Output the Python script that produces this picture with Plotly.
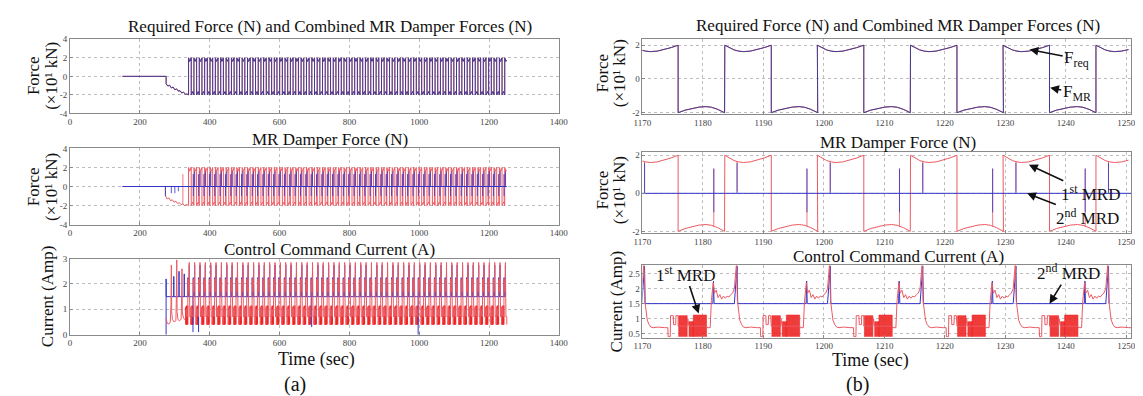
import plotly.graph_objects as go

# ---------------- data ----------------
# falling edges (high -> low) of the required / MR force square wave, sec
force_falls = [347.0, 362.4, 377.7, 393.1, 408.4, 423.8, 439.1, 454.5, 469.8, 485.2,
               500.5, 515.9, 531.2, 546.6, 561.9, 577.3, 592.6, 608.0, 623.3, 638.7,
               654.0, 669.4, 684.7, 700.1, 715.4, 730.8, 746.1, 761.5, 776.8, 792.2,
               807.5, 822.9, 838.2, 853.6, 868.9, 884.3, 899.6, 915.0, 930.3, 945.7,
               961.0, 976.4, 991.7, 1007.1, 1022.4, 1037.8, 1053.1, 1068.5, 1083.8, 1099.2,
               1114.5, 1129.9, 1145.2, 1160.6, 1175.9, 1191.3, 1206.6, 1222.0, 1237.3]
half_cycle = 7.68          # duration of each high / low plateau, sec
end_time = 1251.0

# shape of the high plateau (fraction of half cycle, force x10 kN)
high_frac = [0.0, 0.1, 0.2, 0.3, 0.4, 0.55, 0.7, 0.85, 1.0]
high_mag = [2.0, 1.85, 1.72, 1.65, 1.62, 1.65, 1.74, 1.86, 2.0]
# shape of the low plateau
low_frac = [0.0, 0.15, 0.3, 0.45, 0.6, 0.72, 0.85, 1.0]
low_mag = [-2.0, -1.85, -1.74, -1.67, -1.64, -1.68, -1.8, -2.0]

# start-up transient of the combined force
trans_t = [150, 275, 275.1, 280, 285, 290, 295, 300, 305, 310, 315, 320, 325, 330, 335, 339.3]
trans_f = [0, 0, -0.8, -1.05, -0.95, -1.25, -1.15, -1.45, -1.35, -1.6, -1.55, -1.8, -1.7, -1.95, -1.9, -2.0]

# start-up transient of the 1st MR damper force
mrd1_trans_t = [150, 273, 273.1, 278, 283, 288, 293, 298, 303, 308, 313, 318, 323, 328, 333, 339.3]
mrd1_trans_f = [0, 0, -1.0, -1.3, -1.2, -1.5, -1.4, -1.65, -1.55, -1.8, -1.7, -1.9, -1.85, -2.0, -1.9, -2.0]

# spikes per cycle (offset after falling edge, from, to)
mrd1_spike_dt = [5.9, 9.75]
mrd1_spike_from = [-1.75, 1.7]
mrd1_spike_to = [1.3, 0.1]
mrd2_spike_dt = [5.9, 9.75]
mrd2_spike_from = [-1.0, 0.0]
mrd2_spike_to = [1.3, 1.6]
mrd2_trans_spike_t = [273, 290, 300, 310]
mrd2_trans_spike_to = [-1.0, -0.7, -0.7, -0.5]
mrd1_trans_spike_t = [323]
mrd1_trans_spike_to = [1.3]

# control current: cycle starts and per-cycle template (offset sec, Amp)
cur_starts = [331.7] + force_falls
cur_red_dt = [0.0, 1.5, 1.6, 1.7, 1.8, 4.7, 4.8, 5.3, 5.5, 5.8, 6.0, 6.3, 6.6, 6.9, 7.2, 7.5,
              7.8, 8.1, 8.4, 8.7, 9.0, 9.3, 9.5, 9.65, 9.8, 10.0, 10.2, 10.5, 10.8, 11.2, 12.0,
              13.0, 13.6, 13.65, 14.0, 14.05, 14.5, 14.55, 14.9, 14.95, 15.3]
cur_red_v = [0.75, 0.75, 1.0, 0.75, 0.75, 0.75, 0.7, 0.7, 1.6, 2.2, 1.85, 1.95, 1.7, 1.8, 1.65, 1.75,
             1.68, 1.75, 1.72, 1.8, 1.85, 2.0, 2.4, 2.85, 1.6, 1.2, 0.95, 0.8, 0.72, 0.7, 0.72,
             0.7, 0.7, 0.4, 0.4, 1.1, 1.1, 0.8, 0.8, 1.1, 1.1]
cur_blue_dt = [0.0, 5.75, 5.85, 5.95, 9.3, 9.45, 9.6, 9.75, 9.85, 15.3]
cur_blue_v = [1.5, 1.5, 2.25, 1.5, 1.5, 2.0, 2.6, 2.75, 1.5, 1.5]
# dense switching blocks of the 1st MRD current (offset start, offset end, low, high)
block_start = [0.1, 1.8, 2.5]
block_end = [1.5, 2.5, 4.7]
block_low = [0.4, 0.4, 0.4]
block_high = [1.1, 0.9, 1.12]
# current start-up transient
cur_red_trans_t = [275.1, 278, 283, 287, 289, 290, 291, 293, 298, 303, 304.5, 305.5,
                   306.5, 309, 313, 318, 319.5, 320.5, 321.5, 324, 328, 331.6]
cur_red_trans_v = [0.65, 0.45, 0.42, 0.5, 1.2, 2.75, 0.9, 0.6, 0.5, 0.55, 1.5, 2.95,
                   0.9, 0.6, 0.55, 0.6, 1.5, 2.6, 0.9, 0.7, 0.6, 0.65]
cur_blue_trans_t = [275, 275, 275.3, 275.4, 296.8, 297, 297.2, 311.8, 312, 312.2, 326.8, 327, 327.2, 331.6]
cur_blue_trans_v = [0, 2.2, 2.2, 1.5, 1.5, 2.3, 1.5, 1.5, 2.5, 1.5, 1.5, 2.4, 1.5, 1.5]
blue_dip_t = [352, 368, 692, 997]
blue_dip_v = [0.1, 0.1, 0.3, 0.0]

left_xticks = [0, 200, 400, 600, 800, 1000, 1200, 1400]
right_xticks = [1170, 1180, 1190, 1200, 1210, 1220, 1230, 1240, 1250]

# ---------------- build series ----------------
def square_wave(tt, ff):
    xs, ys = list(tt), list(ff)
    for T in force_falls + [force_falls[-1] + 2 * half_cycle]:
        rise = T - half_cycle
        for f, m in zip(high_frac, high_mag):
            xs.append(rise + f * half_cycle); ys.append(m)
        if T > force_falls[-1]:
            break
        for f, m in zip(low_frac, low_mag):
            xs.append(T + f * half_cycle); ys.append(m)
    out = [(a, b) for a, b in zip(xs, ys) if a <= end_time]
    return [a for a, _ in out], [b for _, b in out]

f_x, f_y = square_wave(trans_t, trans_f)
m1_x, m1_y = square_wave(mrd1_trans_t, mrd1_trans_f)

def spikes(dts, froms, tos, extra_t=(), extra_to=(), base=0.0):
    xs, ys = [], []
    for t, v in zip(extra_t, extra_to):
        xs += [t, t, None]; ys += [base, v, None]
    for T in force_falls:
        for dt, a, b in zip(dts, froms, tos):
            if T + dt <= end_time:
                xs += [T + dt, T + dt, None]; ys += [a, b, None]
    return xs, ys

m1s_x, m1s_y = spikes(mrd1_spike_dt, mrd1_spike_from, mrd1_spike_to,
                      mrd1_trans_spike_t, mrd1_trans_spike_to, base=-1.85)
m2s_x, m2s_y = spikes(mrd2_spike_dt, mrd2_spike_from, mrd2_spike_to,
                      mrd2_trans_spike_t, mrd2_trans_spike_to)
m2_x = [150, end_time]
m2_y = [0, 0]

def template(tt, vv, dts, vals):
    xs, ys = list(tt), list(vv)
    for T in cur_starts:
        for dt, v in zip(dts, vals):
            if T + dt <= end_time:
                xs.append(T + dt); ys.append(v)
    return xs, ys

cr_x, cr_y = template(cur_red_trans_t, cur_red_trans_v, cur_red_dt, cur_red_v)
cb_x, cb_y = template(cur_blue_trans_t, cur_blue_trans_v, cur_blue_dt, cur_blue_v)
bd_x, bd_y = [], []
for t, v in zip(blue_dip_t, blue_dip_v):
    bd_x += [t, t, None]; bd_y += [1.5, v, None]
blk_x, blk_y = [], []
for T in cur_starts:
    for s, e, lo, hi in zip(block_start, block_end, block_low, block_high):
        if T + e <= end_time:
            blk_x += [T + s, T + s, T + e, T + e, None]
            blk_y += [lo, hi, hi, lo, None]

# ---------------- figure ----------------
W, H = 1143, 396
def px(x): return x / W
def py(y): return 1 - y / H

FONT = "Liberation Serif, Times New Roman, Times, serif"
NAVY = "#3e3e96"
BLUE = "#3434c8"
RED = "#ec5a62"
BRED = "#ee2626"

fig = go.Figure()
axes = {  # name: (x domain px, y domain px)
    1: ((54, 551), (27, 103)),
    2: ((54, 551), (139, 217)),
    3: ((54, 551), (252, 330)),
    4: ((636, 1133), (27, 104)),
    5: ((636, 1133), (143, 226)),
    6: ((636, 1133), (259, 333)),
}

def add(i, x, y, color, width=1.0, **kw):
    fig.add_trace(go.Scatter(x=x, y=y, mode="lines", line=dict(color=color, width=width),
                             xaxis="x" if i == 1 else f"x{i}", yaxis="y" if i == 1 else f"y{i}",
                             showlegend=False, hoverinfo="skip", **kw))

for i in (1, 4):
    add(i, f_x, f_y, RED, 1.0)
    add(i, f_x, f_y, NAVY, 1.0)
for i in (2, 5):
    add(i, m1_x, m1_y, RED, 1.0)
    add(i, m1s_x, m1s_y, RED, 1.0, opacity=0.8)
    add(i, m2_x, m2_y, BLUE, 1.0)
    add(i, m2s_x, m2s_y, BLUE, 1.0, opacity=0.8)
for i in (3, 6):
    lw = 1.6 if i == 3 else 0.6
    add(i, blk_x, blk_y, BRED, lw, fill="toself", fillcolor="rgba(238,38,38,0.9)")
    add(i, cb_x, cb_y, BLUE, 1.0)
    add(i, bd_x, bd_y, BLUE, 1.0)
    add(i, cr_x, cr_y, RED, 1.0)

tickfont = dict(family=FONT, size=9, color="#444")
common = dict(showline=True, mirror=True, linecolor="#8a8a8a", linewidth=1,
              showgrid=True, gridcolor="#bdbdbd", griddash="dot", gridwidth=1,
              zeroline=False, ticks="inside", ticklen=3, tickcolor="#8a8a8a",
              tickfont=tickfont)
yranges = {1: [-4, 4], 2: [-4, 4], 3: [0, 3], 4: [-2.1, 2.35], 5: [-2.1, 2.15], 6: [0.37, 2.77]}
yticks = {1: [-4, -2, 0, 2, 4], 2: [-4, -2, 0, 2, 4], 3: [0, 1, 2, 3],
          4: [-2, 0, 2], 5: [-2, 0, 2], 6: [0.5, 1, 1.5, 2, 2.5]}
layout = {}
for i, ((x0, x1), (y0, y1)) in axes.items():
    xn = "xaxis" if i == 1 else f"xaxis{i}"
    yn = "yaxis" if i == 1 else f"yaxis{i}"
    xa = "x" if i == 1 else f"x{i}"
    ya = "y" if i == 1 else f"y{i}"
    xt = left_xticks if i <= 3 else right_xticks
    xr = [0, 1400] if i <= 3 else [1170, 1250.8]
    layout[xn] = dict(domain=[px(x0), px(x1)], anchor=ya, range=xr, tickvals=xt,
                      ticktext=[str(v) for v in xt], **common)
    yt = yticks[i]
    layout[yn] = dict(domain=[py(y1), py(y0)], anchor=xa, range=yranges[i], tickvals=yt,
                      ticktext=["%g" % v for v in yt], **common)

ann = []
def text(x, y, s, size=16.5, angle=0):
    ann.append(dict(x=px(x), y=py(y), xref="paper", yref="paper", text=s, showarrow=False,
                    textangle=angle, font=dict(family=FONT, size=size, color="#111"),
                    xanchor="center", yanchor="middle"))

for cx, ys_ in ((318, (14, 130, 243)), (896, (13, 133, 250))):
    text(cx, ys_[0], "Required Force (N) and Combined MR Damper Forces (N)", 17)
    text(cx, ys_[1], "MR Damper Force (N)", 17)
    text(cx, ys_[2], "Control Command Current (A)", 17)

for fx, fy in ((17, 64), (17, 178), (595, 62), (595, 182)):
    text(fx, fy, "Force", 17, -90)
    text(fx + 18, fy, "(×10¹ kN)", 17, -90)
text(31, 290, "Current (Amp)", 17, -90)
text(610, 296, "Current (Amp)", 17, -90)
text(305, 355, "Time (sec)", 18)
text(868, 357, "Time (sec)", 18)
text(283, 381, "(a)", 20)
text(855, 381, "(b)", 20)

def arrow(i, x, y, ax, ay, s):
    ann.append(dict(x=x, y=y, ax=ax, ay=ay, xref=f"x{i}", yref=f"y{i}", axref=f"x{i}",
                    ayref=f"y{i}", text=s, showarrow=True, arrowhead=2, arrowsize=1.1,
                    arrowwidth=1.6, arrowcolor="#111",
                    font=dict(family=FONT, size=17, color="#111")))

arrow(4, 1234.0, 1.74, 1241.8, 1.2, "F<sub>req</sub>")
arrow(4, 1237.4, -0.52, 1241.8, -0.85, "F<sub>MR</sub>")
arrow(5, 1233.9, 1.5, 1244.0, 0.0, "1<sup>st</sup> MRD")
arrow(5, 1233.6, 0.0, 1243.6, -1.25, "2<sup>nd</sup> MRD")
arrow(6, 1179.3, 1.17, 1177.1, 2.5, "1<sup>st</sup> MRD")
arrow(6, 1237.3, 1.5, 1240.5, 2.55, "2<sup>nd</sup> MRD")

fig.update_layout(width=W, height=H, autosize=False, margin=dict(l=0, r=0, t=0, b=0),
                  font=dict(family=FONT),
                  paper_bgcolor="white", plot_bgcolor="white", annotations=ann, **layout)
fig.write_html("out.html")
